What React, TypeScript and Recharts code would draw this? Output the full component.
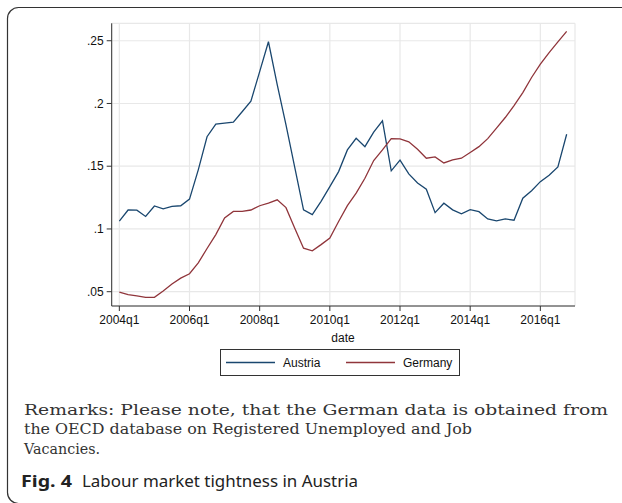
import { LineChart, Line, XAxis, YAxis, CartesianGrid } from 'recharts'

// quarterly observations, 2004q1 .. 2016q4
const quarters = [
  '2004q1', '2004q2', '2004q3', '2004q4',
  '2005q1', '2005q2', '2005q3', '2005q4',
  '2006q1', '2006q2', '2006q3', '2006q4',
  '2007q1', '2007q2', '2007q3', '2007q4',
  '2008q1', '2008q2', '2008q3', '2008q4',
  '2009q1', '2009q2', '2009q3', '2009q4',
  '2010q1', '2010q2', '2010q3', '2010q4',
  '2011q1', '2011q2', '2011q3', '2011q4',
  '2012q1', '2012q2', '2012q3', '2012q4',
  '2013q1', '2013q2', '2013q3', '2013q4',
  '2014q1', '2014q2', '2014q3', '2014q4',
  '2015q1', '2015q2', '2015q3', '2015q4',
  '2016q1', '2016q2', '2016q3', '2016q4',
]

// vacancies / unemployed
const austria = [
  0.1063, 0.1151, 0.115, 0.110,
  0.1183, 0.1161, 0.118, 0.1185,
  0.1238, 0.1471, 0.1735, 0.1836,
  0.1844, 0.1852, 0.1934, 0.2019,
  0.2254, 0.2492, 0.215, 0.183,
  0.149, 0.1153, 0.1114, 0.122,
  0.1337, 0.1457, 0.163, 0.1723,
  0.1656, 0.1771, 0.1861, 0.1463,
  0.1548, 0.1439, 0.1367, 0.1317,
  0.113, 0.1205, 0.1152, 0.112,
  0.1154, 0.1138, 0.108, 0.1064,
  0.108, 0.107, 0.1245, 0.1305,
  0.1377, 0.1428, 0.1495, 0.1755,
]

const germany = [
  0.0497, 0.0476, 0.0466, 0.0455,
  0.0455, 0.0505, 0.0561, 0.0608,
  0.0643, 0.073, 0.0844, 0.0955,
  0.1087, 0.114, 0.114, 0.1151,
  0.1185, 0.1206, 0.1232, 0.117,
  0.1005, 0.0847, 0.0826, 0.0875,
  0.0928, 0.1059, 0.1186, 0.1285,
  0.1404, 0.1545, 0.163, 0.172,
  0.1718, 0.1694, 0.1635, 0.1564,
  0.1574, 0.1526, 0.155, 0.1564,
  0.1609, 0.1656, 0.172, 0.1803,
  0.1888, 0.1983, 0.2087, 0.2207,
  0.2313, 0.2406, 0.2491, 0.2574,
]

const xTickLabels = ['2004q1', '2006q1', '2008q1', '2010q1', '2012q1', '2014q1', '2016q1']
const yTicks = [0.05, 0.1, 0.15, 0.2, 0.25]

const AUSTRIA_COLOR = '#1a476f'
const GERMANY_COLOR = '#90353b'
const SANS = '"Liberation Sans", Arial, Helvetica, sans-serif'

const data = quarters.map((q, i) => ({ t: i, q, austria: austria[i], germany: germany[i] }))
const xTicks = xTickLabels.map((l) => quarters.indexOf(l))

// stata style: ".05", ".1", ".15"
const fmtY = (v: number) => v.toFixed(2).replace(/^0/, '').replace(/0$/, '')

export default function App() {
  return (
    <div style={{ position: 'absolute', left: 0, top: 0, width: 622, height: 503, background: '#fff' }}>
      <svg width={622} height={503} style={{ position: 'absolute', left: 0, top: 0 }}>
        <rect x={7.5} y={7.5} width={660} height={496} rx={11} fill="none" stroke="#333" strokeWidth={1.2} />

        <text x={343} y={342} textAnchor="middle" fontFamily={SANS} fontSize={12} fill="#111">date</text>

        {/* legend */}
        <rect x={220.5} y={349.5} width={239} height={26} fill="#fff" stroke="#333" strokeWidth={1} />
        <line x1={226} x2={275} y1={362.5} y2={362.5} stroke={AUSTRIA_COLOR} strokeWidth={1.3} />
        <text x={283} y={367} fontFamily={SANS} fontSize={12} fill="#111">Austria</text>
        <line x1={346} x2={395} y1={362.5} y2={362.5} stroke={GERMANY_COLOR} strokeWidth={1.3} />
        <text x={403} y={367} fontFamily={SANS} fontSize={12} fill="#111">Germany</text>

        {/* remarks */}
        <g fontFamily='"DejaVu Serif", serif' fontSize={14.5} fill="#333">
          <text x={24} y={414.5} textLength={584} lengthAdjust="spacingAndGlyphs">
            Remarks: Please note, that the German data is obtained from
          </text>
          <text x={24} y={434} textLength={448} lengthAdjust="spacingAndGlyphs">
            the OECD database on Registered Unemployed and Job
          </text>
          <text x={24} y={453.5} textLength={76} lengthAdjust="spacingAndGlyphs">
            Vacancies.
          </text>
        </g>

        <g fontFamily='"Noto Sans", "Open Sans", sans-serif' fontSize={16.5} fill="#222">
          <text x={21} y={487} fontWeight="bold" textLength={51} lengthAdjust="spacingAndGlyphs">Fig. 4</text>
          <text x={82} y={487} textLength={276} lengthAdjust="spacingAndGlyphs">
            Labour market tightness in Austria
          </text>
        </g>
      </svg>

      <div style={{ position: 'absolute', left: 0, top: 0 }}>
        <LineChart
          width={622}
          height={503}
          data={data}
          margin={{ top: 23.3, right: 47, left: 51.7, bottom: 167 }}
        >
          <CartesianGrid stroke="#e8e8e8" strokeWidth={1.2} />
          <XAxis
            type="number"
            dataKey="t"
            domain={[-0.87, 51.95]}
            allowDataOverflow
            ticks={xTicks}
            tickFormatter={(v: number) => quarters[v]}
            height={30}
            tickSize={5}
            tickMargin={4}
            stroke="#333"
            tick={{ fontSize: 12, fill: '#111', fontFamily: SANS }}
          />
          <YAxis
            type="number"
            domain={[0.0386, 0.2639]}
            allowDataOverflow
            ticks={yTicks}
            tickFormatter={fmtY}
            width={60}
            tickSize={5}
            tickMargin={3}
            stroke="#333"
            tick={{ fontSize: 12, fill: '#111', fontFamily: SANS }}
          />
          <Line
            type="linear"
            dataKey="austria"
            stroke={AUSTRIA_COLOR}
            strokeWidth={1.3}
            dot={false}
            isAnimationActive={false}
          />
          <Line
            type="linear"
            dataKey="germany"
            stroke={GERMANY_COLOR}
            strokeWidth={1.3}
            dot={false}
            isAnimationActive={false}
          />
        </LineChart>
      </div>
    </div>
  )
}
